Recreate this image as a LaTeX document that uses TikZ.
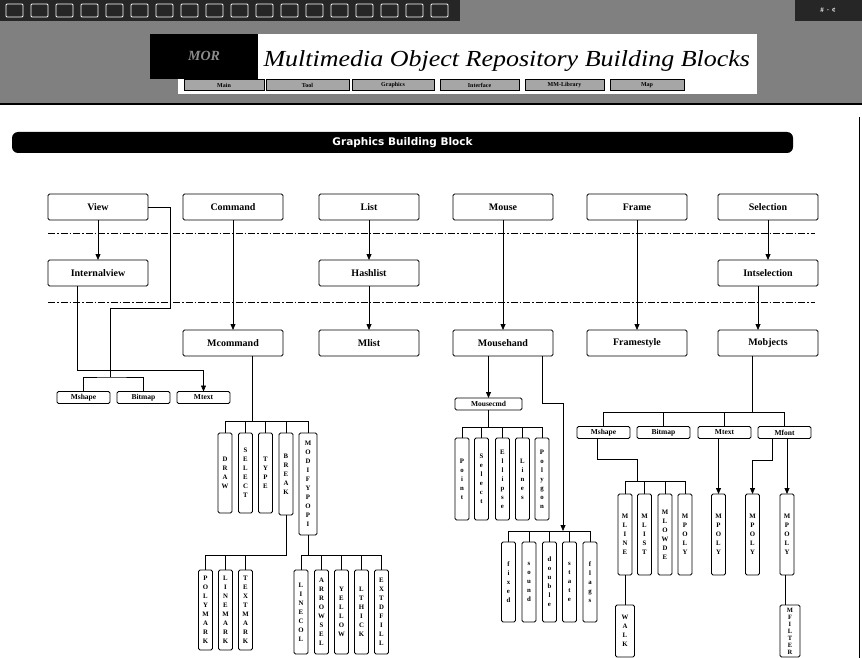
\documentclass[tikz,border=0pt]{standalone}
\usepackage{fontspec}
\setmainfont{Liberation Serif}
\setsansfont{Liberation Sans}
\newfontfamily\bannerfont{DejaVu Sans}
\usepackage{tikz}
\usetikzlibrary{arrows.meta,positioning}

% letters of a word set one under the other
\ExplSyntaxOn
\NewDocumentCommand\stackword{m}
  {
    \seq_clear:N \l_tmpa_seq
    \tl_map_inline:nn {#1} { \seq_put_right:Nn \l_tmpa_seq {##1} }
    \seq_use:Nn \l_tmpa_seq { \\ }
  }
\ExplSyntaxOff

\begin{document}
\begin{tikzpicture}[x=1pt,y=-1pt,
	box/.style={draw, rounded corners=1.5pt, line width=0.8pt, outer sep=0pt, minimum width=100pt, minimum height=26pt, inner sep=1pt, font=\fontsize{10}{10}\selectfont\bfseries},
	tag/.style={draw, rounded corners=1.5pt, line width=0.8pt, outer sep=0pt, minimum width=53pt, minimum height=12pt, inner sep=0.5pt, font=\fontsize{7.5}{8}\selectfont\bfseries},
	vbox/.style={draw, rounded corners=1.5pt, line width=0.8pt, outer sep=0pt, anchor=north, minimum width=14pt, inner sep=0.5pt, align=center, font=\fontsize{6.8}{9}\selectfont\bfseries},
	link/.style={line width=0.75pt},
	arr/.style={line width=0.75pt, -{Triangle[width=5pt,length=6pt]}},
	layer/.style={line width=0.7pt, dash pattern=on 7pt off 2pt on 1.5pt off 2pt},
	btn/.style={draw, fill=black!35, minimum width=78pt, minimum height=11pt, inner sep=0pt, font=\fontsize{6}{6}\selectfont\bfseries},
]
	\useasboundingbox (0,0) rectangle (862,658);
	\clip (0,0) rectangle (862,658);

	% page header
	\fill[black!50] (0,0) rectangle (862,104);
	\fill[black!85] (0,0) rectangle (460,21);
	\fill[black!85] (795,0) rectangle (862,21);
	\foreach \i in {0,...,17}
		\draw[white, line width=0.8pt, rounded corners=1pt] (6+\i*25,4) rectangle ++(17,13);
	\node[white, font=\fontsize{7}{7}\selectfont\bfseries] (winctl) at (828,10) {\# \,· \,¢};
	\draw[line width=2pt] (0,104) -- (862,104);

	\fill[white] (178,34) rectangle (757,94);
	\fill[black] (150,34) rectangle (258,79);
	\node[text=black!45, font=\fontsize{14}{14}\selectfont\itshape\bfseries] (logo) at (204,56) {MOR};
	\node[anchor=west, font=\fontsize{23}{23}\selectfont\itshape] (title) at (260,61) {\scalebox{1.13}[1]{Multimedia Object Repository Building Blocks}};
	\node[btn, minimum width=80pt] (bmain) at (224,85) {Main};
	\node[btn, minimum width=83pt] (btool) at (307.5,85) {Tool};
	\node[btn, minimum width=82pt] (bgraph) at (393,85) {Graphics};
	\node[btn, minimum width=79pt] (binter) at (479.5,85) {Interface};
	\node[btn, minimum width=79pt] (bmm) at (564.5,85) {MM-Library};
	\node[btn, minimum width=74pt] (bmap) at (647,85) {Map};

	\draw[line width=1pt] (859,117) -- (859,658);

	\node[fill=black, rounded corners=6pt, minimum width=781pt, minimum height=21pt, text=white, font=\bannerfont\bfseries\fontsize{10.5}{11}\selectfont] (banner) at (402.5,142.5) {Graphics Building Block};

	% top layer
	\node[box] (view) at (98,207) {View};
	\node[box, right=35pt of view] (command) {Command};
	\node[box, right=36pt of command] (list) {List};
	\node[box, right=34pt of list] (mouse) {Mouse};
	\node[box, right=34pt of mouse] (frame) {Frame};
	\node[box, right=31pt of frame] (selection) {Selection};

	\draw[layer] (48,233) -- (815,233);
	\draw[layer] (48,302) -- (815,302);

	\node[box, below=40pt of view] (internal) {Internalview};
	\node[box, below=40pt of list] (hashlist) {Hashlist};
	\node[box, below=40pt of selection] (intsel) {Intselection};

	\node[box, below=110pt of command] (mcommand) {Mcommand};
	\node[box, below=44pt of hashlist] (mlist) {Mlist};
	\node[box, below=110pt of mouse] (mousehand) {Mousehand};
	\node[box, below=110pt of frame] (framestyle) {Framestyle};
	\node[box, below=44pt of intsel] (mobjects) {Mobjects};

	\draw[arr] (view) -- (internal);
	\draw[arr] (list) -- (hashlist);
	\draw[arr] (hashlist) -- (mlist);
	\draw[arr] (selection) -- (intsel);
	\draw[arr] (command) -- (mcommand);
	\draw[arr] (mouse) -- (mousehand);
	\draw[arr] (frame) -- (framestyle);
	\draw[arr] ([xshift=-10pt]intsel.south) -- ([xshift=-10pt]mobjects.north);

	% view objects
	\node[tag] (lshape) at (83.5,397.5) {Mshape};
	\node[tag, right=7pt of lshape] (lbitmap) {Bitmap};
	\node[tag, right=7pt of lbitmap] (ltext) {Mtext};
	\coordinate (vbend) at (170,308);
	\coordinate (lbus) at (110,377);
	\draw[link] (view.east) -| (vbend) -| (lbus);
	\draw[link] (lshape.north) |- (lbus) -| (lbitmap.north);
	\draw[arr] ([xshift=-21pt]internal.south) |- (ltext.north |- 0,370) -- (ltext.north);

	% commands
	\node[vbox, minimum height=80pt] (cdraw) at (225,433) {\stackword{DRAW}};
	\node[vbox, minimum height=80pt] (cselect) at (245.5,433) {\stackword{SELECT}};
	\node[vbox, minimum height=80pt] (ctype) at (265.5,433) {\stackword{TYPE}};
	\node[vbox, minimum height=82pt] (cbreak) at (286,433) {\stackword{BREAK}};
	\node[vbox, minimum height=102pt, minimum width=18pt] (cmodify) at (308,433) {\stackword{MODIFYPOPI}};
	\coordinate (cbus) at (252.5,421);
	\draw[link] (cbus |- mcommand.south) -- (cbus);
	\draw[link] (cdraw.north) |- (cmodify.north |- cbus) -- (cmodify.north);
	\foreach \n in {cselect,ctype,cbreak}
		\draw[link] (\n.north) -- (\n.north |- cbus);

	\node[vbox, minimum height=80pt] (bpoly) at (205.5,570) {\stackword{POLYMARK}};
	\node[vbox, minimum height=80pt] (bline) at (225.5,570) {\stackword{LINEMARK}};
	\node[vbox, minimum height=80pt] (btext) at (245.5,570) {\stackword{TEXTMARK}};
	\draw[link] (cbreak.south) |- (bpoly.north |- 0,555) -- (bpoly.north);
	\foreach \n in {bline,btext}
		\draw[link] (\n.north) -- (\n.north |- 0,555);

	\node[vbox, minimum height=84pt] (mcol) at (301,570) {\stackword{LINECOL}};
	\node[vbox, minimum height=84pt] (marrow) at (321.5,570) {\stackword{ARROWSEL}};
	\node[vbox, minimum height=84pt] (myellow) at (341.5,570) {\stackword{YELLOW}};
	\node[vbox, minimum height=84pt] (mthick) at (361.5,570) {\stackword{LTHICK}};
	\node[vbox, minimum height=84pt] (mfill) at (381.5,570) {\stackword{EXTDFILL}};
	\draw[link] (cmodify.south) -- (cmodify.south |- 0,555);
	\draw[link] (mcol.north) |- (mfill.north |- 0,555) -- (mfill.north);
	\foreach \n in {marrow,myellow,mthick}
		\draw[link] (\n.north) -- (\n.north |- 0,555);

	% mouse
	\node[tag, minimum width=67pt] (mousecmd) at (488.5,404) {Mousecmd};
	\draw[arr] (mousecmd.north |- mousehand.south) -- (mousecmd.north);
	\node[vbox, minimum height=82pt] (kpoint) at (462,438) {\stackword{Point}};
	\node[vbox, minimum height=82pt] (kselect) at (481.5,438) {\stackword{Select}};
	\node[vbox, minimum height=82pt] (kellipse) at (502.5,438) {\stackword{Ellipse}};
	\node[vbox, minimum height=82pt] (klines) at (522.5,438) {\stackword{Lines}};
	\node[vbox, minimum height=82pt] (kpolygon) at (542,438) {\stackword{Polygon}};
	\draw[link] (mousecmd.south) -- (mousecmd.south |- 0,427);
	\draw[link] (kpoint.north) |- (kpolygon.north |- 0,427) -- (kpolygon.north);
	\foreach \n in {kselect,kellipse,klines}
		\draw[link] (\n.north) -- (\n.north |- 0,427);

	\coordinate (mbend) at (563,403);
	\coordinate (mbus) at (563,531);
	\draw[arr] (kpolygon.north |- mousehand.south) |- (mbend) -- (mbus);
	\node[vbox, minimum height=80pt] (ffixed) at (508.5,542) {\stackword{fixed}};
	\node[vbox, minimum height=80pt] (fsound) at (529,542) {\stackword{sound}};
	\node[vbox, minimum height=80pt] (fdouble) at (549.5,542) {\stackword{double}};
	\node[vbox, minimum height=80pt] (fstate) at (569.5,542) {\stackword{state}};
	\node[vbox, minimum height=80pt] (fflags) at (590,542) {\stackword{flags}};
	\draw[link] (ffixed.north) |- (fflags.north |- mbus) -- (fflags.north);
	\foreach \n in {fsound,fdouble,fstate}
		\draw[link] (\n.north) -- (\n.north |- mbus);

	% objects
	\coordinate (obus) at (752,412);
	\draw[link] (obus |- mobjects.south) -- (obus);
	\node[tag] (rshape) at (603.5,432.5) {Mshape};
	\node[tag, right=7pt of rshape] (rbitmap) {Bitmap};
	\node[tag, right=8pt of rbitmap] (rtext) {Mtext};
	\node[tag, right=7pt of rtext] (rfont) {Mfont};
	\draw[link] (rshape.north) |- (rfont.north |- obus) -- (rfont.north);
	\foreach \n in {rbitmap,rtext}
		\draw[link] (\n.north) -- (\n.north |- obus);

	\node[vbox, minimum height=81pt] (sline) at (625,494) {\stackword{MLINE}};
	\node[vbox, minimum height=81pt] (slist) at (644.5,494) {\stackword{MLIST}};
	\node[vbox, minimum height=81pt] (slow) at (665,494) {\stackword{MLOWDE}};
	\node[vbox, minimum height=81pt] (spoly) at (685,494) {\stackword{MPOLY}};
	\coordinate (sbend) at (637,459);
	\coordinate (sbus) at (637,481);
	\draw[link] ([xshift=-6.5pt]rshape.south) |- (sbend) -- (sbus);
	\draw[link] (sline.north) |- (spoly.north |- sbus) -- (spoly.north);
	\foreach \n in {slist,slow}
		\draw[link] (\n.north) -- (\n.north |- sbus);

	\node[vbox, minimum height=81pt] (tpoly) at (718.5,494) {\stackword{MPOLY}};
	\draw[arr] (tpoly.north |- rtext.south) -- (tpoly.north);
	\node[vbox, minimum height=81pt] (gpoly) at (752.5,494) {\stackword{MPOLY}};
	\node[vbox, minimum height=81pt] (hpoly) at (787,494) {\stackword{MPOLY}};
	\draw[arr] ([xshift=-12pt]rfont.south) |- (gpoly.north |- 0,460) -- (gpoly.north);
	\draw[arr] (hpoly.north |- rfont.south) -- (hpoly.north);

	\node[vbox, minimum height=52pt, minimum width=19pt] (swalk) at (625,605) {\stackword{WALK}};
	\node[vbox, minimum height=52pt, minimum width=20pt, font=\fontsize{6.5}{7}\selectfont\bfseries] (hfilter) at (790,605) {\stackword{MFILTER}};
	\draw[link] (sline.south) -- (swalk.north);
	\draw[link] ([xshift=-2pt]hpoly.south) -- ([xshift=-2pt]hpoly.south |- hfilter.north);
\end{tikzpicture}
\end{document}
